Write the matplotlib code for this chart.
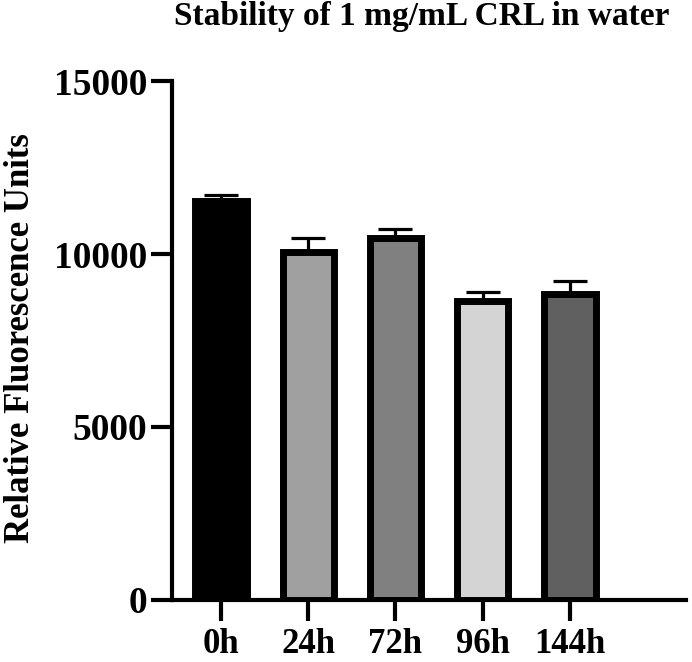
import matplotlib.pyplot as plt
import numpy as np

plt.rcParams['font.family'] = ['Liberation Serif', 'DejaVu Serif']
plt.rcParams['font.weight'] = 'bold'

temps = ['0h', '24h', '72h', '96h', '144h']
rfu = [11520, 10070, 10450, 8630, 8830]
erreur = [190, 390, 275, 275, 390]
couleurs = ['#000000', '#a0a0a0', '#808080', '#d4d4d4', '#606060']

fig = plt.figure(figsize=(6.92, 6.62), dpi=100)
ax = fig.add_axes([0.2486, 0.0937, 0.7424, 0.7839])

x = np.arange(len(temps))
ax.bar(x, rfu, width=0.59, color=couleurs, edgecolor='black', linewidth=5, zorder=2)
ax.errorbar(x, rfu, yerr=[[0] * len(rfu), erreur], fmt='none', ecolor='black',
            elinewidth=2.3, capsize=12, capthick=2.3, zorder=1)

ax.set_xlim(-0.562, 5.33)
ax.set_ylim(0, 15000)
ax.set_yticks([0, 5000, 10000, 15000])
ax.set_xticks(x)
ax.set_xticklabels(temps)

for s in ['top', 'right']:
    ax.spines[s].set_visible(False)
for s in ['left', 'bottom']:
    ax.spines[s].set_linewidth(3)
ax.tick_params(axis='both', length=15, width=3)
ax.tick_params(axis='y', labelsize=27, pad=3)
ax.tick_params(axis='x', labelsize=25, pad=5)

ax.set_ylabel('Relative Fluorescence Units', fontsize=25, fontweight='bold')
ax.yaxis.set_label_coords(-0.262, 0.505)
ax.set_title('Stability of 1 mg/mL CRL in water', fontsize=24, fontweight='bold',
             x=0.485, pad=40)

plt.savefig('out.png', dpi=100)
